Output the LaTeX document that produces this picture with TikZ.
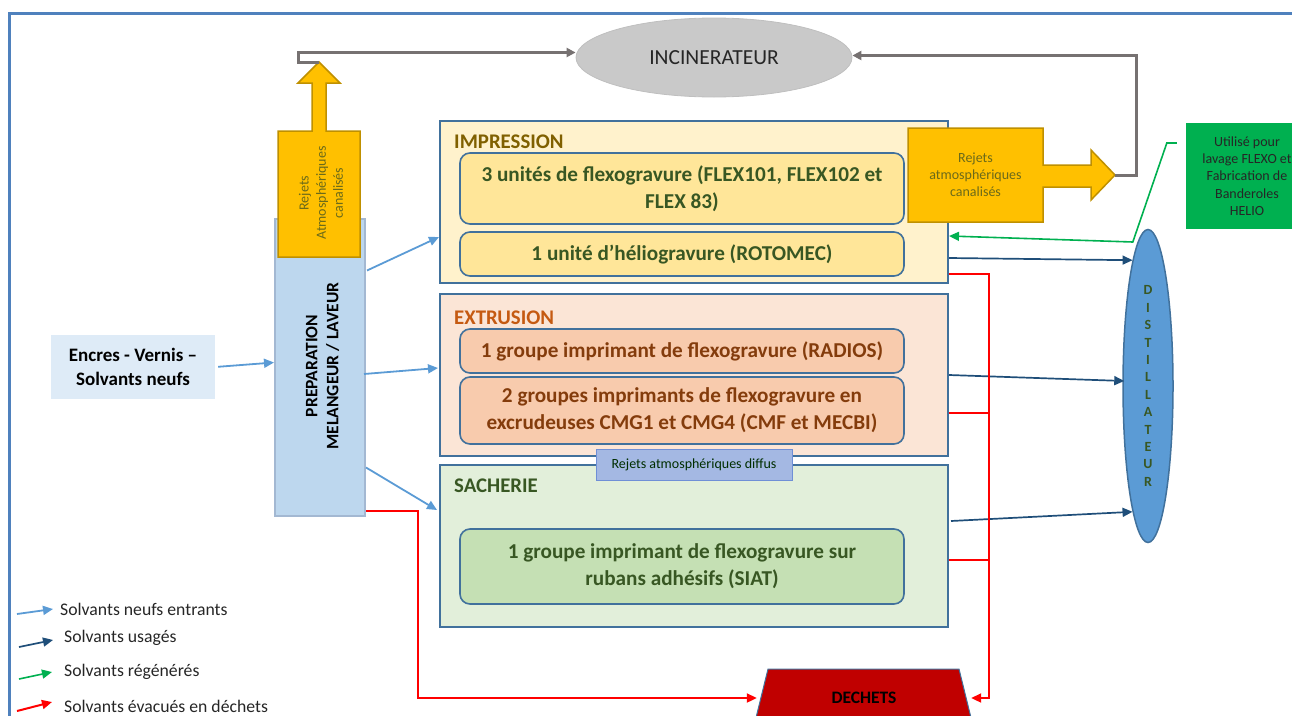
\documentclass[tikz,border=0pt]{standalone}
\usepackage{fontspec}
\setmainfont{Carlito}
\usepackage{xcolor}
\definecolor{frameblue}{HTML}{4F81BD}
\definecolor{edge}{HTML}{41719C}
\definecolor{imprfill}{HTML}{FFF2CC}
\definecolor{imprin}{HTML}{FFE699}
\definecolor{imprtitle}{HTML}{806000}
\definecolor{extrfill}{HTML}{FBE5D6}
\definecolor{extrin}{HTML}{F8CBAD}
\definecolor{extrtitle}{HTML}{C55A11}
\definecolor{extrtext}{HTML}{843C0C}
\definecolor{sachfill}{HTML}{E2EFDA}
\definecolor{sachin}{HTML}{C5E0B4}
\definecolor{leaf}{HTML}{385723}
\definecolor{skyfill}{HTML}{BDD7EE}
\definecolor{skyedge}{HTML}{A3B8D2}
\definecolor{paleblue}{HTML}{DEEBF7}
\definecolor{amber}{HTML}{FFC000}
\definecolor{amberedge}{HTML}{BF9000}
\definecolor{ochretext}{HTML}{6B6A1A}
\definecolor{smoke}{HTML}{767171}
\definecolor{smokefill}{HTML}{C9C9C9}
\definecolor{newsolv}{HTML}{5B9BD5}
\definecolor{usedsolv}{HTML}{1F4E79}
\definecolor{regen}{HTML}{00B050}
\definecolor{wastered}{HTML}{FF0000}
\definecolor{dechfill}{HTML}{C00000}
\definecolor{diffusfill}{HTML}{A4B8E3}
\definecolor{diffusedge}{HTML}{6F8FD6}
\usepackage{tikz}
\usetikzlibrary{arrows.meta,calc,shapes.geometric}
\tikzset{
  font=\fontsize{20.5}{26}\selectfont,
  unit/.style={draw=edge,line width=2pt,inner sep=0pt,minimum width=508pt,minimum height=162pt},
  inner/.style={draw=edge,line width=1.6pt,rounded corners=10pt,align=center,inner sep=2pt,
                minimum width=444pt,font=\fontsize{21.2}{27}\selectfont\bfseries},
  title/.style={anchor=west,inner sep=0pt,font=\fontsize{20.8}{26}\selectfont\bfseries},
  small/.style={align=center,inner sep=0pt,font=\fontsize{14}{17.2}\selectfont},
  legend/.style={anchor=west,inner sep=0pt,text=black!85,font=\fontsize{17.7}{21}\selectfont},
  amberarrow/.style={fill=amber,draw=amberedge,line width=1.5pt,line join=miter},
  newflow/.style={-{Triangle[length=10pt,width=9pt]},line width=1.8pt,draw=newsolv},
  usedflow/.style={-{Triangle[length=10pt,width=9pt]},line width=1.7pt,draw=usedsolv},
  regenflow/.style={-{Triangle[length=10pt,width=9pt]},line width=1.6pt,draw=regen},
  wasteline/.style={line width=2pt,draw=wastered},
  exhaust/.style={-{Triangle[length=9pt,width=9pt]},line width=3pt,draw=smoke},
}

\begin{document}
\begin{tikzpicture}[x=1pt,y=-1pt]
  \useasboundingbox (0,0) rectangle (1292,715);
  \clip (0,0) rectangle (1292,715);
  \draw[frameblue,line width=3pt] (9,740) -- (9,13) -- (1310,13);

  \node[ellipse,fill=smokefill,draw=black!25,line width=0.8pt,minimum width=276pt,minimum height=79pt,
        font=\fontsize{21.5}{24}\selectfont,text=black!85] (incin) at (714,57.5) {INCINERATEUR};

  % ateliers
  \node[unit,fill=imprfill] (impr) at (694,202) {};
  \node[title,text=imprtitle] at (454,142) {IMPRESSION};
  \node[inner,fill=imprin,text=leaf,minimum height=71pt] (flexo) at (682,188.5)
    {\raisebox{-3pt}{}3 unités de flexogravure (FLEX101, FLEX102 et\\FLEX 83)};
  \node[inner,fill=imprin,text=leaf,minimum height=44pt] (helio) at (682,254)
    {1 unité d’héliogravure (ROTOMEC)};

  \node[unit,fill=extrfill] (extr) at (694,375) {};
  \node[title,text=extrtitle] at (454,318) {EXTRUSION};
  \node[inner,fill=extrin,text=extrtext,minimum height=44pt] (radios) at (682,351)
    {1 groupe imprimant de flexogravure (RADIOS)};
  \node[inner,fill=extrin,text=extrtext,minimum height=67pt] (cmg) at (682,410.5)
    {2 groupes imprimants de flexogravure en\\excrudeuses CMG1 et CMG4 (CMF et MECBI)};

  \node[unit,fill=sachfill] (sach) at (694,546) {};
  \node[title,text=leaf] at (454,486) {SACHERIE};
  \node[inner,fill=sachin,text=leaf,minimum height=75pt] (siat) at (682,566.5)
    {1 groupe imprimant de flexogravure sur\\rubans adhésifs (SIAT)};

  \node[small,fill=diffusfill,draw=diffusedge,line width=1pt,minimum width=196pt,minimum height=31pt,
        text=black!70!green!60!black] (diffus) at (694,464.5) {Rejets atmosphériques diffus};

  % preparation et entree
  \node[fill=skyfill,draw=skyedge,line width=2pt,minimum width=90pt,minimum height=297pt] (prep) at (320,367.5) {};
  \node[rotate=90,align=center,inner sep=0pt,font=\fontsize{17.5}{21}\selectfont\bfseries] at (322.5,366)
    {PREPARATION\\MELANGEUR / LAVEUR};
  \node[fill=paleblue,minimum width=164pt,minimum height=64pt,align=center,
        font=\fontsize{19}{24}\selectfont\bfseries] (encres) at (133,367) {Encres - Vernis –\\Solvants neufs};

  % rejets canalises
  \draw[amberarrow] (278,257) -- (278,131) -- (312,131) -- (312,83) -- (298,83) -- (319,62) -- (340,83)
    -- (326,83) -- (326,131) -- (360,131) -- (360,257) -- cycle;
  \coordinate (atmLtip) at (319,62);
  \node[small,rotate=90,text=ochretext] (atmL) at (321,193) {Rejets\\Atmosphériques\\canalisés};

  \draw[amberarrow] (908,128) -- (1043,128) -- (1043,165) -- (1091,165) -- (1091,150) -- (1115,175)
    -- (1091,200) -- (1091,187) -- (1043,187) -- (1043,222) -- (908,222) -- cycle;
  \coordinate (atmRtip) at (1115,175);
  \node[small,text=ochretext] (atmR) at (975.5,175) {Rejets\\atmosphériques\\canalisés};

  \node[ellipse,fill=newsolv,draw=edge,line width=1.5pt,minimum width=50pt,minimum height=313pt,inner sep=0pt,
        align=center,text=leaf,font=\fontsize{14}{17.4}\selectfont\bfseries] (distil) at (1148,386)
    {D\\I\\S\\T\\I\\L\\L\\A\\T\\E\\U\\R};

  \node[fill=regen,minimum width=122pt,minimum height=106pt,small,text=black!85] (usage) at (1247,176)
    {Utilisé pour\\lavage FLEXO et\\Fabrication de\\Banderoles\\HELIO};

  \fill[dechfill,draw=edge,line width=1pt] (768,669) -- (959,669) -- (974,730) -- (753,730) -- cycle;
  \node[minimum width=214pt,inner sep=0pt,font=\fontsize{17.5}{21}\selectfont\bfseries] (dech) at (864,698) {DECHETS};

  % flux
  \draw[exhaust] (atmLtip) -- ++(-21,0) |- ($(incin.west)+(0,-5)$);
  \draw[exhaust] (atmRtip) -- ++(21,0) |- ($(incin.east)+(0,-2)$);

  \draw[newflow,shorten <=3pt] (encres.east) -- ($(prep.west)+(0,-5)$);
  \draw[newflow] ($(prep.east)+(1,-97)$) -- ($(impr.west)+(0,35)$);
  \draw[newflow] ($(prep.east)+(-2,6.5)$) -- ($(extr.west)+(-1,-7)$);
  \draw[newflow] ($(prep.east)+(0,100)$) -- ($(sach.west)+(-2,-36)$);

  \draw[usedflow] ($(impr.east)+(0,56)$) -- (distil.97);
  \draw[usedflow] (extr.east) -- ($(distil.west)+(2,-5)$);
  \draw[usedflow] ($(sach.east)+(2,-25)$) -- (distil.263.5);

  \coordinate (regenstart) at ($(usage.west)+(-9,-33)$);
  \draw[regenflow] (regenstart) -- ++(-10,0) -- ++(-34,99) -- ($(impr.east)+(0,34)$);

  \coordinate (wastebus) at (989,274);
  \draw[wasteline,-{Triangle[length=10pt,width=9pt]}] ($(impr.east)+(0,72)$) -- (wastebus) |- (dech.east);
  \draw[wasteline] ($(extr.east)+(0,38)$) -- ++(41,0);
  \draw[wasteline] ($(sach.east)+(0,14)$) -- ++(41,0);
  \draw[wasteline,-{Triangle[length=10pt,width=9pt]}] ($(prep.south east)+(0,-6)$) -- ++(52,0) |- (dech.west);

  % legende
  \node[legend] (lgnew) at (60,609) {Solvants neufs entrants};
  \draw[newflow] ($(lgnew.west)+(-43,5)$) -- ($(lgnew.west)+(-7,0)$);
  \node[legend] (lgused) at (64,638) {Solvants usagés};
  \draw[usedflow] ($(lgused.west)+(-45,9)$) -- ($(lgused.west)+(-11,2)$);
  \node[legend] (lgregen) at (64,672) {Solvants régénérés};
  \draw[regenflow] ($(lgregen.west)+(-45,7)$) -- ($(lgregen.west)+(-12,0)$);
  \node[legend] (lgwaste) at (64,706) {Solvants évacués en déchets};
  \draw[wasteline,-{Triangle[length=10pt,width=9pt]}] ($(lgwaste.west)+(-47,5)$) -- ($(lgwaste.west)+(-12,-4)$);
\end{tikzpicture}
\end{document}
